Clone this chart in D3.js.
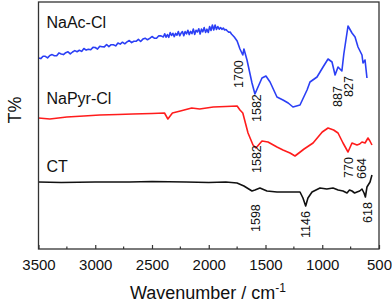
<!DOCTYPE html>
<html>
<head>
<meta charset="utf-8">
<script src="https://cdn.jsdelivr.net/npm/d3@7"></script>
<style>
  body { margin: 0; background: #fff; }
  text { font-family: 'Liberation Sans', Arial, sans-serif; }
</style>
</head>
<body>
<script>
// spectra as [wavenumber, T (arbitrary, offset for stacking)]
let naAcCl = [
  [3500, 191], [3480, 190.4], [3460, 192.8], [3440, 192.7], [3420, 191.1], [3400, 193.5],
  [3380, 194.4], [3360, 193.3], [3340, 193.2], [3320, 196.1], [3300, 195], [3280, 194.4],
  [3260, 196.3], [3240, 197.2], [3220, 195.1], [3200, 197], [3180, 198.4], [3160, 197.3],
  [3140, 198.7], [3120, 197.6], [3100, 200.5], [3080, 198.9], [3060, 199.8], [3040, 199.2],
  [3020, 201.6], [3000, 201.5], [2980, 199.9], [2960, 202.8], [2940, 202.2], [2920, 202.1],
  [2900, 204.5], [2880, 202.4], [2860, 204.3], [2840, 204.2], [2820, 203.1], [2800, 206],
  [2780, 204.9], [2760, 206.8], [2740, 205.2], [2720, 207.1], [2700, 208.5], [2680, 206.4],
  [2660, 207.8], [2640, 207.7], [2620, 209.6], [2600, 207.5], [2580, 209.9], [2560, 210.8],
  [2540, 209.2], [2520, 210.6], [2500, 212.5], [2480, 210.9], [2460, 210.8], [2440, 213.2],
  [2420, 213.1], [2400, 212], [2388, 215.2], [2376, 211.8], [2364, 214.5], [2352, 211.7],
  [2340, 216.4], [2328, 213.5], [2316, 215.7], [2304, 212.4], [2292, 215.6], [2280, 213.8],
  [2268, 217.5], [2256, 213.2], [2244, 215.8], [2232, 217.5], [2220, 213.2], [2208, 217.4],
  [2196, 215.1], [2184, 218.7], [2172, 214.4], [2160, 217.6], [2148, 215.3], [2136, 220],
  [2124, 214.6], [2112, 218.8], [2100, 217], [2088, 220.2], [2076, 214.9], [2064, 220],
  [2052, 217.2], [2040, 221.4], [2028, 216.6], [2016, 219.8], [2004, 216.5], [1992, 222.5],
  [1980, 218.5], [1968, 224], [1956, 219], [1944, 224], [1932, 219.5], [1920, 222.5],
  [1908, 219.8], [1896, 221.5], [1884, 219.7], [1872, 221], [1860, 219], [1848, 219.5],
  [1836, 218], [1824, 216.8], [1812, 217], [1800, 215], [1775, 212], [1750, 208],
  [1725, 200], [1700, 194], [1690, 200], [1663, 189], [1619, 166], [1593, 155],
  [1566, 162], [1531, 171], [1496, 173], [1460, 167], [1399, 152], [1346, 149],
  [1300, 146], [1258, 142], [1196, 144], [1134, 159], [1108, 167], [1046, 172],
  [993, 182], [949, 190], [914, 187], [887, 174], [861, 182], [844, 180],
  [827, 178], [810, 195], [773, 223], [738, 216], [711, 212], [685, 202],
  [650, 194], [641, 186], [623, 189], [606, 171]
];
let naPyrCl = [
  [3500, 131], [3400, 130], [3250, 132], [3100, 133], [2960, 134], [2800, 134.5],
  [2670, 135], [2500, 135.5], [2390, 136], [2360, 130], [2340, 133], [2320, 136],
  [2250, 138], [2150, 141], [2080, 140], [1960, 142], [1850, 142.5], [1750, 143],
  [1725, 139], [1700, 136], [1654, 116], [1610, 104], [1584, 101], [1531, 108],
  [1478, 107], [1399, 102], [1346, 99], [1284, 96], [1240, 93], [1160, 100],
  [1081, 106], [1000, 117], [949, 121], [900, 119], [861, 116], [817, 106],
  [773, 97], [738, 106], [694, 104], [670, 105], [650, 107], [623, 106],
  [597, 111], [580, 108], [571, 106], [562, 104]
];
let ct = [
  [3500, 67], [3300, 66.5], [3000, 67], [2700, 67], [2500, 67.5], [2200, 67],
  [2000, 66.5], [1850, 67], [1751, 66], [1690, 63], [1619, 58], [1593, 59],
  [1549, 61], [1487, 58], [1399, 57], [1284, 57], [1196, 57], [1170, 51],
  [1146, 43], [1126, 51], [1090, 57], [1020, 61], [960, 60], [905, 61],
  [860, 59], [817, 58], [782, 56], [760, 59], [738, 58], [715, 56], [694, 57],
  [670, 58], [650, 60], [632, 56], [620, 52], [606, 62], [579, 67], [562, 74]
];
let series = [
  { name: 'NaAc-Cl', data: naAcCl, color: '#2b3ff5' },
  { name: 'NaPyr-Cl', data: naPyrCl, color: '#ff1c1c' },
  { name: 'CT', data: ct, color: '#111' }
];
// curve names placed at [wavenumber, T]
let names = [
  { text: 'NaAc-Cl', at: [3430, 221] },
  { text: 'NaPyr-Cl', at: [3430, 145] },
  { text: 'CT', at: [3430, 77] }
];
// peak annotations: label, wavenumber of text centre, T at text start
let peaks = [
  { text: '1700', w: 1735, t: 161 },
  { text: '1582', w: 1575, t: 127 },
  { text: '887', w: 870, t: 142 },
  { text: '827', w: 765, t: 152 },
  { text: '1582', w: 1575, t: 76 },
  { text: '770', w: 765, t: 71 },
  { text: '664', w: 650, t: 70 },
  { text: '1598', w: 1585, t: 17 },
  { text: '1146', w: 1145, t: 11 },
  { text: '618', w: 605, t: 26 }
];
let xTicks = [3500, 3000, 2500, 2000, 1500, 1000, 500];
let xMinor = [3250, 2750, 2250, 1750, 1250, 750];

let width = 392, height = 303;
let plot = { left: 38.5, right: 379, top: 2, bottom: 249 };

let svg = d3.select('body').append('svg')
  .attr('width', width).attr('height', height);

let x = d3.scaleLinear().domain([3500, 500]).range([plot.left, plot.right]);
let y = d3.scaleLinear().domain([0, 247]).range([plot.bottom, plot.top]);

let line = d3.line().x(d => x(d[0])).y(d => y(d[1]));

svg.selectAll('path.spec')
  .data(series)
  .enter()
  .append('path')
  .attr('class', 'spec')
  .attr('d', d => line(d.data))
  .attr('fill', 'none')
  .attr('stroke', d => d.color)
  .attr('stroke-width', 1.6)
  .attr('stroke-linejoin', 'round');

// frame
svg.append('rect')
  .attr('x', plot.left).attr('y', plot.top)
  .attr('width', plot.right - plot.left).attr('height', plot.bottom - plot.top)
  .attr('fill', 'none').attr('stroke', '#333').attr('stroke-width', 1.3);

// bottom axis, ticks inward
let axisX = d3.axisBottom(x).tickValues(xTicks).tickFormat(d3.format('d'))
  .tickSize(-4).tickPadding(10).tickSizeOuter(0);
let gx = svg.append('g').attr('transform', `translate(0,${plot.bottom})`).call(axisX);
gx.select('.domain').remove();
gx.selectAll('line').attr('stroke', '#333').attr('stroke-width', 1.2);
gx.selectAll('text')
  .attr('font-size', 15).attr('fill', '#111')
  .attr('font-family', "'Liberation Sans', Arial, sans-serif");
svg.append('g').selectAll('line')
  .data(xMinor)
  .enter()
  .append('line')
  .attr('x1', d => x(d)).attr('x2', d => x(d))
  .attr('y1', plot.bottom).attr('y2', plot.bottom - 2.5)
  .attr('stroke', '#333').attr('stroke-width', 1.2);

// axis titles
let title = svg.append('text')
  .attr('x', 208).attr('y', 299)
  .attr('text-anchor', 'middle')
  .attr('font-size', 18).attr('fill', '#111');
title.append('tspan').text('Wavenumber / cm');
title.append('tspan').attr('dy', -7).attr('font-size', 12).text('-1');

svg.append('text')
  .attr('transform', 'translate(21,110) rotate(-90)')
  .attr('text-anchor', 'middle')
  .attr('font-size', 18).attr('fill', '#111')
  .text('T%');

// curve names
svg.selectAll('text.name')
  .data(names)
  .enter()
  .append('text')
  .attr('class', 'name')
  .attr('x', d => x(d.at[0])).attr('y', d => y(d.at[1]))
  .attr('font-size', 16).attr('fill', '#111')
  .text(d => d.text);

// peak labels
svg.selectAll('text.peak')
  .data(peaks)
  .enter()
  .append('text')
  .attr('class', 'peak')
  .attr('transform', d => `translate(${x(d.w) + 4.5},${y(d.t)}) rotate(-90)`)
  .attr('font-size', 12.5).attr('fill', '#111')
  .text(d => d.text);
</script>
</body>
</html>
